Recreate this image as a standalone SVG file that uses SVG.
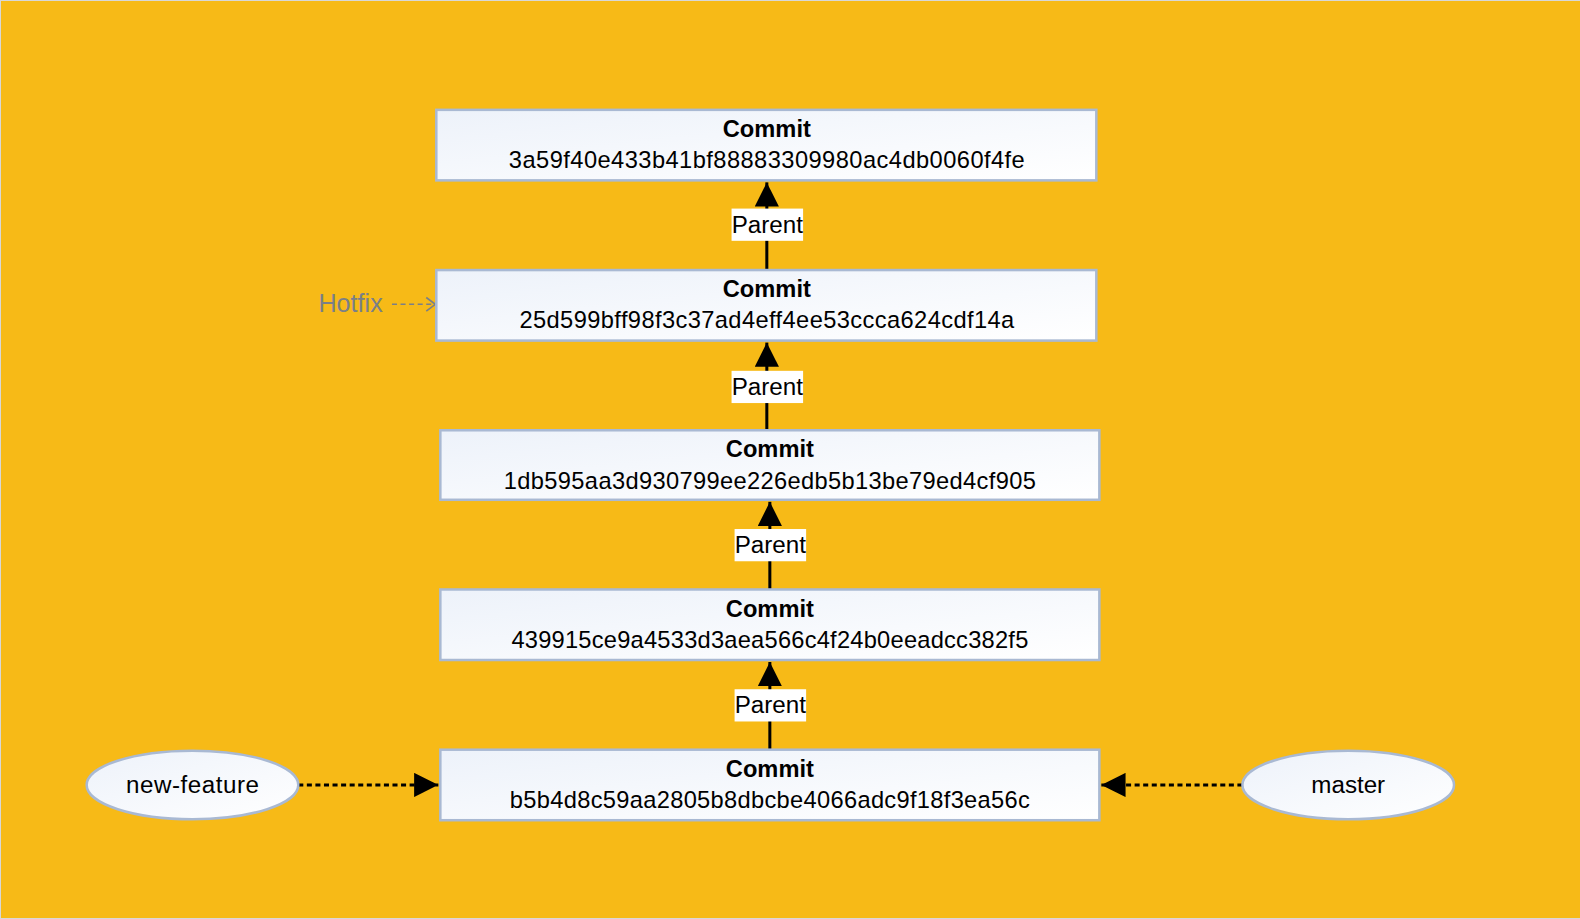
<svg xmlns="http://www.w3.org/2000/svg" width="1580" height="919" viewBox="0 0 1580 919">
<defs>
<linearGradient id="nodeFill" x1="0" y1="0" x2="1" y2="1">
<stop offset="0" stop-color="#EDF2FA"/>
<stop offset="1" stop-color="#FFFFFF"/>
</linearGradient>
<marker id="tri" viewBox="0 0 10 10" refX="10" refY="5" markerWidth="8" markerHeight="8" markerUnits="strokeWidth" orient="auto">
<path d="M0,0 L10,5 L0,10 Z" fill="#000"/>
</marker>
<marker id="chev" viewBox="0 0 10 14" refX="9" refY="7" markerWidth="7" markerHeight="9.8" markerUnits="strokeWidth" orient="auto">
<path d="M1,1 L9,7 L1,13" fill="none" stroke="#7A7F88" stroke-width="1.5"/>
</marker>
</defs>
<style>
.node{fill:url(#nodeFill);stroke:#A9B9D3;stroke-width:2.5}
.title{font-family:"Liberation Sans",Arial,sans-serif;font-size:23.5px;font-weight:bold;fill:#000;text-anchor:middle}
.hash{font-family:"Liberation Sans",Arial,sans-serif;font-size:23.5px;fill:#000;text-anchor:middle}
.lbl{font-family:"Liberation Sans",Arial,sans-serif;font-size:24px;fill:#000;text-anchor:middle}
.plbg{fill:#FFFFFF}
.edge{stroke:#000;stroke-width:3;fill:none}
.dash{stroke:#000;stroke-width:3;fill:none;stroke-dasharray:5 3.5}
.hot{font-family:"Liberation Sans",Arial,sans-serif;font-size:25px;fill:#7A7F88}
.hotline{stroke:#7A7F88;stroke-width:1.6;fill:none;stroke-dasharray:5 3.5}
</style>
<rect x="0.5" y="0.5" width="1580" height="918" fill="#F7BA17" stroke="#D8D8D8" stroke-width="1"/>

<g transform="scale(1.00765)">
<g id="connectors">
<line class="edge" x1="761" y1="268" x2="761" y2="181" marker-end="url(#tri)"/>
<line class="edge" x1="761" y1="427" x2="761" y2="340" marker-end="url(#tri)"/>
<line class="edge" x1="764" y1="585" x2="764" y2="498" marker-end="url(#tri)"/>
<line class="edge" x1="764" y1="744" x2="764" y2="657" marker-end="url(#tri)"/>
<line class="dash" x1="296" y1="779" x2="435" y2="779" marker-end="url(#tri)"/>
<line class="dash" x1="1233" y1="779" x2="1093" y2="779" marker-end="url(#tri)"/>
<line class="hotline" x1="389" y1="302" x2="432" y2="302" marker-end="url(#chev)"/>
<g id="parent-labels">
<rect class="plbg" x="726" y="207" width="71" height="32"/>
<text class="lbl" x="761.5" y="231">Parent</text>
<rect class="plbg" x="726" y="368" width="71" height="32"/>
<text class="lbl" x="761.5" y="392">Parent</text>
<rect class="plbg" x="729" y="525" width="71" height="32"/>
<text class="lbl" x="764.5" y="549">Parent</text>
<rect class="plbg" x="729" y="684" width="71" height="32"/>
<text class="lbl" x="764.5" y="708">Parent</text>
</g>
</g>

<g id="commit1">
<rect class="node" x="433" y="109" width="655" height="70"/>
<text class="title" x="761" y="136">Commit</text>
<text class="hash" x="761" y="167" textLength="512" lengthAdjust="spacing">3a59f40e433b41bf88883309980ac4db0060f4fe</text>
</g>
<g id="commit2">
<rect class="node" x="433" y="268" width="655" height="70"/>
<text class="title" x="761" y="295">Commit</text>
<text class="hash" x="761" y="326" textLength="491" lengthAdjust="spacing">25d599bff98f3c37ad4eff4ee53ccca624cdf14a</text>
</g>
<g id="commit3">
<rect class="node" x="437" y="427" width="654" height="69"/>
<text class="title" x="764" y="454">Commit</text>
<text class="hash" x="764" y="485" textLength="528" lengthAdjust="spacing">1db595aa3d930799ee226edb5b13be79ed4cf905</text>
</g>
<g id="commit4">
<rect class="node" x="437" y="585" width="654" height="70"/>
<text class="title" x="764" y="612">Commit</text>
<text class="hash" x="764" y="643" textLength="513" lengthAdjust="spacing">439915ce9a4533d3aea566c4f24b0eeadcc382f5</text>
</g>
<g id="commit5">
<rect class="node" x="437" y="744" width="654" height="70"/>
<text class="title" x="764" y="771">Commit</text>
<text class="hash" x="764" y="802" textLength="516" lengthAdjust="spacing">b5b4d8c59aa2805b8dbcbe4066adc9f18f3ea56c</text>
</g>

<g id="new-feature">
<ellipse class="node" cx="191" cy="779" rx="105" ry="34"/>
<text class="lbl" x="191" y="787" textLength="132" lengthAdjust="spacing">new-feature</text>
</g>
<g id="master">
<ellipse class="node" cx="1338" cy="779" rx="105" ry="34"/>
<text class="lbl" x="1338" y="787">master</text>
</g>
<g id="hotfix">
<text class="hot" x="316" y="310">Hotfix</text>
</g>
</g>
</svg>
